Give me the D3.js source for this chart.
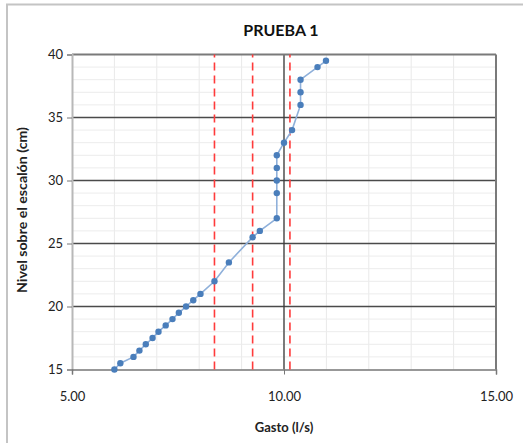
<!DOCTYPE html>
<html>
<head>
<meta charset="utf-8">
<script src="https://cdn.jsdelivr.net/npm/d3@7"></script>
<style>
  html, body { margin: 0; padding: 0; background: #fff; }
  svg { display: block; }
</style>
</head>
<body>
<script>
// Gasto (l/s) vs nivel sobre el escalón (cm)
const gasto = [6.00, 6.14, 6.45, 6.59, 6.74, 6.90, 7.04, 7.21, 7.37, 7.52, 7.69, 7.86, 8.03,
               8.36, 8.70, 9.26, 9.43, 9.83, 9.83, 9.83, 9.83, 9.83, 10.00, 10.19, 10.39,
               10.39, 10.39, 10.79, 10.99];
const nivel = [15, 15.5, 16, 16.5, 17, 17.5, 18, 18.5, 19, 19.5, 20, 20.5, 21,
               22, 23.5, 25.5, 26, 27, 29, 30, 31, 32, 33, 34, 36,
               37, 38, 39, 39.5];
// Reference flow lines (dashed)
const refLines = [8.36, 9.26, 10.14];
const xTicks = [5, 10, 15];
const yTicks = [15, 20, 25, 30, 35, 40];
const title = "PRUEBA 1";
const xTitle = "Gasto (l/s)";
const yTitle = "Nivel sobre el escalón (cm)";

const W = 523, H = 443;
const svg = d3.select("body").append("svg").attr("width", W).attr("height", H);
const font = "Lato, 'Open Sans', sans-serif";

// chart frame
svg.append("rect").attr("x", 7).attr("y", 4.5).attr("width", W).attr("height", H)
  .attr("fill", "#fff").attr("stroke", "#c4c4c4").attr("stroke-width", 2);

const x = d3.scaleLinear().domain([5, 15]).range([72, 496]);
const y = d3.scaleLinear().domain([15, 40]).range([369.5, 54.5]);

// minor grid
const g = svg.append("g");
g.selectAll("line.mx").data(d3.range(6, 15)).join("line")
  .attr("x1", d => x(d)).attr("x2", d => x(d)).attr("y1", y(15)).attr("y2", y(40))
  .attr("stroke", "#e9e9e9").attr("stroke-width", 1);
g.selectAll("line.my").data(d3.range(16, 40)).join("line")
  .attr("y1", d => y(d)).attr("y2", d => y(d)).attr("x1", x(5)).attr("x2", x(15))
  .attr("stroke", "#ececec").attr("stroke-width", 1);

// major grid
g.selectAll("line.My").data([20, 25, 30, 35]).join("line")
  .attr("y1", d => y(d)).attr("y2", d => y(d)).attr("x1", x(5)).attr("x2", x(15))
  .attr("stroke", "#4a4a4a").attr("stroke-width", 1.3);
g.append("line").attr("x1", x(10)).attr("x2", x(10)).attr("y1", y(15)).attr("y2", y(40))
  .attr("stroke", "#3a3a3a").attr("stroke-width", 1.3);

// frame lines of plot area
g.append("line").attr("x1", x(5)).attr("x2", x(15)).attr("y1", y(40)).attr("y2", y(40))
  .attr("stroke", "#7a7a7a").attr("stroke-width", 2);
g.append("line").attr("x1", x(15)).attr("x2", x(15)).attr("y1", y(15)).attr("y2", y(40))
  .attr("stroke", "#7a7a7a").attr("stroke-width", 2);

// axes
const yAxis = d3.axisLeft(y).tickValues(yTicks).tickSize(5).tickPadding(4).tickFormat(d3.format("d"));
const xAxis = d3.axisBottom(x).tickValues(xTicks).tickSize(5).tickPadding(17).tickFormat(d3.format(".2f"));
const ya = svg.append("g").attr("transform", `translate(${x(5)},0)`).call(yAxis);
const xa = svg.append("g").attr("transform", `translate(0,${y(15)})`).call(xAxis);
ya.select(".domain").attr("stroke", "#b8b8b8").attr("stroke-width", 2);
xa.select(".domain").attr("stroke", "#777").attr("stroke-width", 1.5);
[ya, xa].forEach(a => {
  a.selectAll(".tick line").attr("stroke", "#777");
  a.selectAll(".tick text").attr("font-family", font).attr("font-size", 13).attr("fill", "#222");
});

// dashed reference lines
svg.selectAll("line.ref").data(refLines).join("line")
  .attr("x1", d => x(d)).attr("x2", d => x(d)).attr("y1", y(15)).attr("y2", y(40))
  .attr("stroke", "#ff3b3b").attr("stroke-width", 1.6).attr("stroke-dasharray", "8,5");

// series
const line = d3.line().x((d, i) => x(gasto[i])).y((d, i) => y(nivel[i]));
svg.append("path").datum(nivel).attr("d", line)
  .attr("fill", "none").attr("stroke", "#8fb0da").attr("stroke-width", 1.6);
svg.selectAll("circle.pt").data(nivel).join("circle")
  .attr("cx", (d, i) => x(gasto[i])).attr("cy", d => y(d)).attr("r", 3.2)
  .attr("fill", "#4a7ebb");

// titles
svg.append("text").attr("x", 281).attr("y", 36).attr("text-anchor", "middle")
  .attr("font-family", font).attr("font-weight", "bold").attr("font-size", 16).attr("fill", "#111")
  .text(title);
svg.append("text").attr("x", 284).attr("y", 432).attr("text-anchor", "middle")
  .attr("font-family", font).attr("font-weight", "bold").attr("font-size", 13).attr("fill", "#222")
  .text(xTitle);
svg.append("text").attr("transform", `translate(26.5,210) rotate(-90)`).attr("text-anchor", "middle")
  .attr("font-family", font).attr("font-weight", "bold").attr("font-size", 12.5).attr("fill", "#222")
  .attr("textLength", 166).attr("lengthAdjust", "spacingAndGlyphs")
  .text(yTitle);
</script>
</body>
</html>
